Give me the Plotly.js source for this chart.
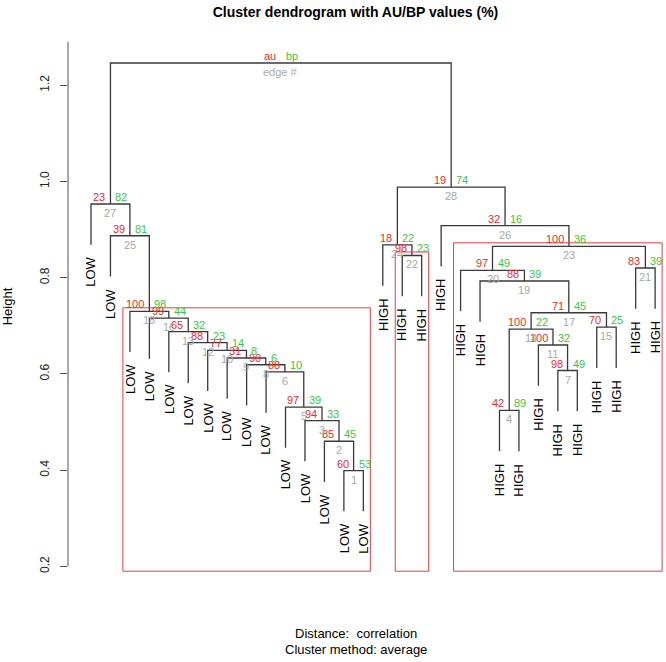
<!DOCTYPE html>
<html><head><meta charset="utf-8">
<script src="https://cdn.plot.ly/plotly-3.0.1.min.js"></script>
<style>html,body{margin:0;padding:0;background:#fff}#chart{width:666px;height:662px}</style>
</head><body><div id="chart"></div>
<script>
// Leaf labels in dendrogram order (left to right)
const leafLabels = ['LOW','LOW','LOW','LOW','LOW','LOW','LOW','LOW','LOW','LOW','LOW','LOW','LOW','LOW','LOW',
                    'HIGH','HIGH','HIGH','HIGH','HIGH','HIGH','HIGH','HIGH','HIGH','HIGH','HIGH','HIGH','HIGH','HIGH','HIGH'];
// Merge table (hclust style): negative = leaf position, positive = edge number
const mergeA = [-14,-13,-12,-22,-11,-10,-25,-9,-8,-7,-24,-6,-5, 4,-27,-4,14,-3,-21,-20,-29,-17,20,-16,-2,-19,-1,24,27];
const mergeB = [-15,  1,  2,-23,  3,  5,-26, 6, 8, 9,  7,10,12,11,-28,13,15,16, 17, 19,-30,-18,21, 22,18, 23,25,26,28];
// Merge heights for edges 1..29
const heights = [0.399,0.460,0.503,0.524,0.531,0.604,0.607,0.619,0.633,0.649,0.660,0.665,0.688,0.693,0.697,
                 0.716,0.727,0.730,0.793,0.815,0.820,0.846,0.865,0.868,0.887,0.908,0.953,0.988,1.246];
// AU and BP p-values (%) for edges 1..28 (the root carries the legend)
const auValues = [60,85,94,42,97,88,98,90,31,77,100,88,65,100,70,99,71,100,88,97,83,98,100,18,39,32,23,19];
const bpValues = [53,45,33,89,39,10,49, 6, 8,14, 32,23,32, 22,25,44,45, 98,39,49,39,23, 36,22,81,16,82,74];
const yTickVals = [0.2,0.4,0.6,0.8,1.0,1.2];
const yTickText = ['0.2','0.4','0.6','0.8','1.0','1.2'];
const alphaAU = 95;

const FONT = 'Liberation Sans, Arial, Helvetica, sans-serif';
const n = heights.length;
const hang = 0.1 * (Math.max(...heights) - Math.min(...heights));
const centerX = [], members = [];
const lx = [], ly = [];
const leafBottom = {};
function childInfo(c, h) {
  if (c < 0) { leafBottom[-c] = h - hang; return {x: -c, y: h - hang, m: [-c]}; }
  return {x: centerX[c-1], y: heights[c-1], m: members[c-1]};
}
for (let i = 0; i < n; i++) {
  const h = heights[i];
  const a = childInfo(mergeA[i], h), b = childInfo(mergeB[i], h);
  lx.push(a.x, a.x, b.x, b.x, null);
  ly.push(a.y, h, h, b.y, null);
  centerX[i] = (a.x + b.x) / 2;
  members[i] = a.m.concat(b.m);
}

const annotations = [];
for (let i = 0; i < n; i++) {
  const last = i === n - 1;
  annotations.push({x: centerX[i], y: heights[i], xref: 'x', yref: 'y', text: last ? 'au' : String(auValues[i]),
    showarrow: false, xanchor: 'right', yanchor: 'middle', xshift: -3, yshift: 7,
    font: {family: FONT, size: 11, color: '#EE2B2B'}});
  annotations.push({x: centerX[i], y: heights[i], xref: 'x', yref: 'y', text: last ? 'bp' : String(bpValues[i]),
    showarrow: false, xanchor: 'left', yanchor: 'middle', xshift: 3, yshift: 7,
    font: {family: FONT, size: 11, color: '#3CC83C'}});
  annotations.push({x: centerX[i], y: heights[i], xref: 'x', yref: 'y', text: last ? 'edge #' : String(i + 1),
    showarrow: false, xanchor: 'center', yanchor: 'middle', yshift: -9,
    font: {family: FONT, size: 11, color: '#A8A8A8'}});
}
for (let k = 1; k <= leafLabels.length; k++) {
  annotations.push({x: k, y: leafBottom[k], xref: 'x', yref: 'y', text: leafLabels[k-1], textangle: -90,
    showarrow: false, xanchor: 'center', yanchor: 'top', yshift: -10,
    font: {family: FONT, size: 13, color: '#000'}});
}
annotations.push({x: 0.4808, y: -0.107, xref: 'paper', yref: 'paper', text: 'Distance:  correlation', showarrow: false,
  xanchor: 'center', yanchor: 'middle', font: {family: FONT, size: 13, color: '#000'}});
annotations.push({x: 0.4808, y: -0.137, xref: 'paper', yref: 'paper', text: 'Cluster method: average', showarrow: false,
  xanchor: 'center', yanchor: 'middle', font: {family: FONT, size: 13, color: '#000'}});

// Rectangles for clusters with AU >= 95 (largest only)
const shapes = [];
const covered = new Set();
const mx = 0.36, my = 0.0073, rectBottom = 0.19;
for (let i = n - 2; i >= 0; i--) {
  if (auValues[i] >= alphaAU) {
    const m = members[i];
    if (!m.some(v => covered.has(v))) {
      shapes.push({type: 'rect', xref: 'x', yref: 'y', x0: Math.min(...m) - mx, x1: Math.max(...m) + mx,
        y0: rectBottom, y1: heights[i] + my, line: {color: '#EE3B3B', width: 1}, fillcolor: 'rgba(0,0,0,0)'});
    }
    m.forEach(v => covered.add(v));
  }
}
// y axis line
shapes.push({type: 'line', xref: 'paper', yref: 'y', x0: 0, x1: 0, y0: 0.2, y1: 1.29, line: {color: '#555', width: 1}});

const trace = {x: lx, y: ly, type: 'scatter', mode: 'lines', line: {color: '#3a3a3a', width: 1.3}, hoverinfo: 'skip', showlegend: false};

const layout = {
  width: 666, height: 662,
  margin: {l: 68, r: 0, t: 37, b: 86},
  paper_bgcolor: '#fff', plot_bgcolor: '#fff',
  title: {text: 'Cluster dendrogram with AU/BP values (%)', xref: 'container', x: 0.5338, y: 0.982, yanchor: 'middle', xanchor: 'center',
    font: {family: FONT, size: 14, color: '#000', weight: 'bold'}},
  xaxis: {range: [-0.1825, 30.56], visible: false, fixedrange: true},
  yaxis: {range: [0.18, 1.30], tickvals: yTickVals, ticktext: yTickText, tickangle: -90, ticks: 'outside', ticklen: 7,
    ticklabelstandoff: 6,
    tickcolor: '#555', showline: false, showgrid: false, zeroline: false, tickfont: {family: FONT, size: 12, color: '#222'},
    title: {text: 'Height', font: {family: FONT, size: 13, color: '#000'}, standoff: 22}},
  annotations: annotations,
  shapes: shapes,
  showlegend: false
};
Plotly.newPlot('chart', [trace], layout, {displayModeBar: false, staticPlot: true});
</script>
</body></html>
